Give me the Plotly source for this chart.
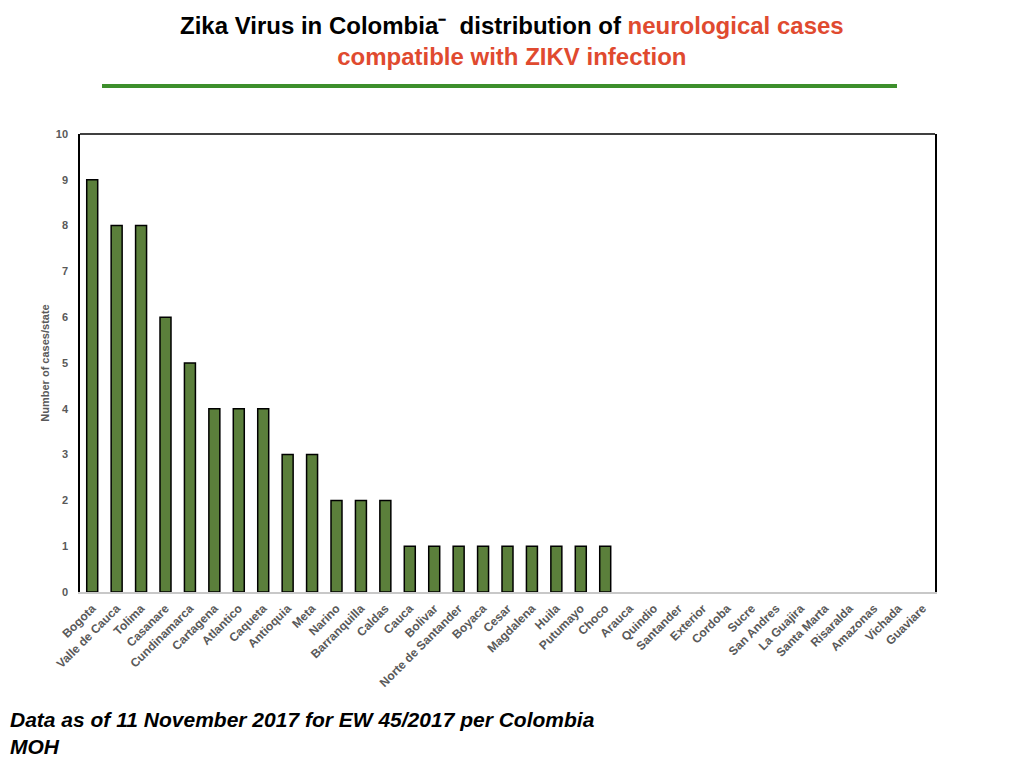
import plotly.graph_objects as go

states = [
    "Bogota", "Valle de Cauca", "Tolima", "Casanare", "Cundinamarca",
    "Cartagena", "Atlantico", "Caqueta", "Antioquia", "Meta", "Narino",
    "Barranquilla", "Caldas", "Cauca", "Bolivar", "Norte de Santander",
    "Boyaca", "Cesar", "Magdalena", "Huila", "Putumayo", "Choco",
    "Arauca", "Quindio", "Santander", "Exterior", "Cordoba", "Sucre",
    "San Andres", "La Guajira", "Santa Marta", "Risaralda", "Amazonas",
    "Vichada", "Guaviare",
]
cases = [
    9, 8, 8, 6, 5, 4, 4, 4, 3, 3, 2, 2, 2, 1, 1, 1, 1, 1, 1, 1, 1, 1,
    0, 0, 0, 0, 0, 0, 0, 0, 0, 0, 0, 0, 0,
]
y_ticks = list(range(0, 11))

FONT = "Liberation Sans, Arial, sans-serif"
GRAY = "#595959"

# page has an 8px body margin, so the figure is laid out in its own coords
W, H = 1016, 760
L, R, T, B = 72, 89, 126, 176
PW, PH = W - L - R, H - T - B


def px(x):
    return (x - L) / PW


def py(y):
    return (H - B - y) / PH


fig = go.Figure()
fig.add_trace(
    go.Bar(
        x=states,
        y=cases,
        width=0.45,
        marker=dict(
            color="#5b7f3b",
            line=dict(color="black", width=[1.5 if v > 0 else 0 for v in cases]),
        ),
    )
)

fig.update_layout(
    width=W,
    height=H,
    margin=dict(l=L, r=R, t=T, b=B),
    paper_bgcolor="white",
    plot_bgcolor="white",
    showlegend=False,
    font=dict(family=FONT),
)
fig.update_xaxes(
    showline=True,
    linecolor="#c8c8c8",
    linewidth=1.5,
    tickangle=-45,
    tickfont=dict(size=12, color=GRAY, family=FONT, weight="bold"),
    ticks="",
    ticklabelstandoff=3,
    showgrid=False,
)
fig.update_yaxes(
    range=[0, 10],
    tickvals=y_ticks,
    showline=True,
    mirror=True,
    linecolor="black",
    linewidth=1.5,
    showgrid=False,
    zeroline=False,
    ticks="",
    ticklabelstandoff=8,
    tickfont=dict(size=11, color=GRAY, family=FONT, weight="bold"),
    title=dict(
        text="Number of cases/state",
        font=dict(size=11, color=GRAY, family=FONT, weight="bold"),
        standoff=4,
    ),
)

# top border of the frame
fig.add_shape(type="line", xref="paper", yref="paper", x0=0, x1=1, y0=1, y1=1,
              line=dict(color="black", width=1.5))

# green rule under the title
fig.add_shape(type="line", xref="paper", yref="paper",
              x0=px(94), x1=px(889), y0=py(78), y1=py(78),
              line=dict(color="#3d8f2c", width=4))

fig.add_annotation(
    xref="paper", yref="paper",
    x=px(504), y=py(2),
    xanchor="center", yanchor="top",
    showarrow=False, align="center",
    text=("Zika Virus in Colombia\u207b  distribution of "
          "<span style='color:#e04a2f'>neurological cases</span><br>"
          "<span style='color:#e04a2f'>compatible with ZIKV infection</span>"),
    font=dict(size=24, color="black", family=FONT, weight="bold"),
)

fig.add_annotation(
    xref="paper", yref="paper",
    x=px(0), y=py(698),
    xanchor="left", yanchor="top",
    showarrow=False, align="left",
    text="<i>Data as of 11 November 2017 for EW 45/2017 per Colombia<br>MOH</i>",
    font=dict(size=21, color="black", family=FONT, weight="bold"),
)

fig.write_html("out.html")
